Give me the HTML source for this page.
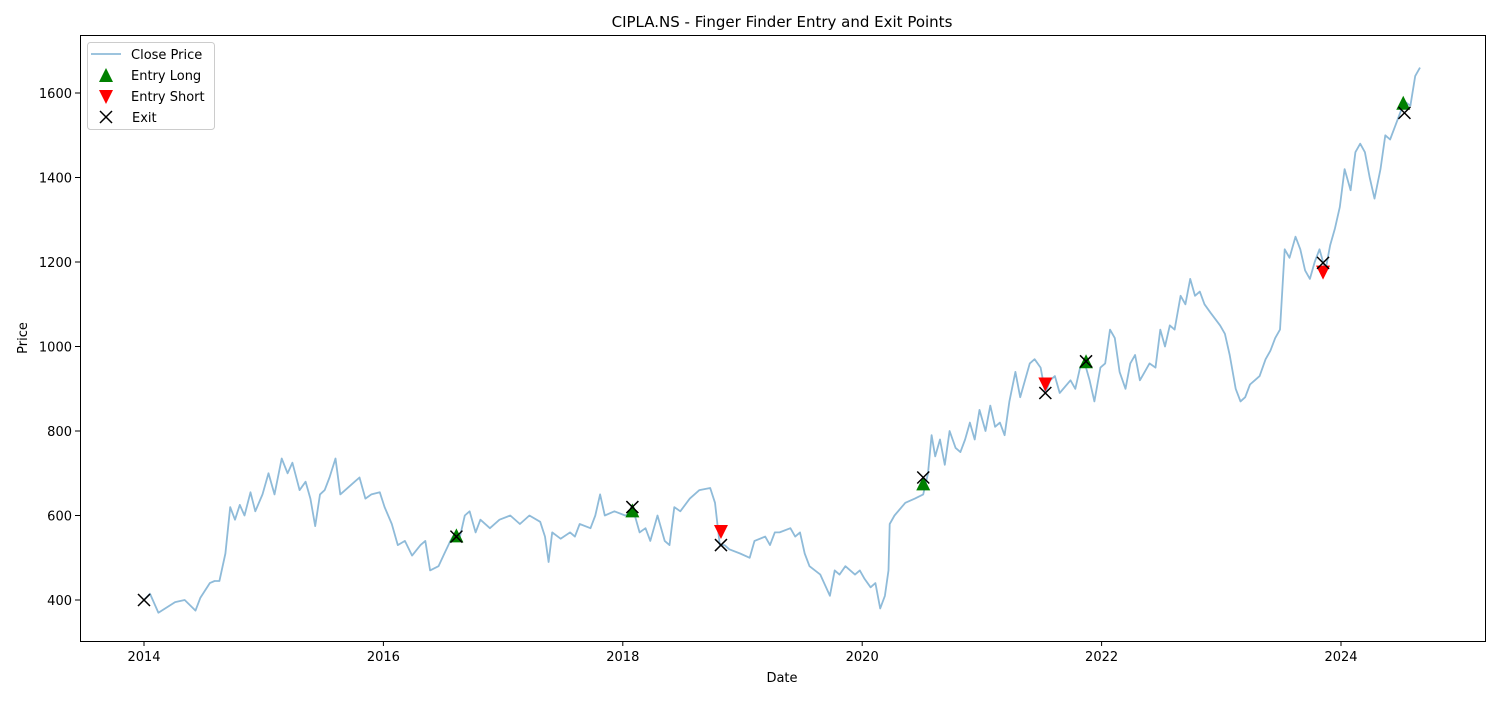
<!DOCTYPE html>
<html><head><meta charset="utf-8"><style>
body{margin:0;background:#fff;font-family:"DejaVu Sans","Liberation Sans",sans-serif;}
svg text{font-family:"DejaVu Sans","Liberation Sans",sans-serif;}
</style></head><body>
<svg id="chart" width="1500" height="700" xmlns="http://www.w3.org/2000/svg">
<rect width="1500" height="700" fill="#fff"/>
<text x="782" y="27" font-size="15" text-anchor="middle">CIPLA.NS - Finger Finder Entry and Exit Points</text>
<g id="plot"></g>
<rect x="80.5" y="35.5" width="1405" height="606" fill="none" stroke="#000" stroke-width="1"/>
<text x="782" y="682" font-size="13" text-anchor="middle">Date</text>
<text x="27" y="338" font-size="13" text-anchor="middle" transform="rotate(-90 27 338)">Price</text>
<g>
<rect x="87.5" y="42.5" width="127" height="87" rx="3" fill="#fff" fill-opacity="0.8" stroke="#ccc"/>
<line x1="91" y1="54" x2="121" y2="54" stroke="#1f77b4" stroke-opacity="0.5" stroke-width="1.8"/>
<text x="131" y="59" font-size="13">Close Price</text>
<polygon points="106,68 99,82 113,82" fill="green"/>
<text x="131" y="80" font-size="13">Entry Long</text>
<polygon points="106,104 99,90 113,90" fill="red"/>
<text x="131" y="101" font-size="13">Entry Short</text>
<path d="M100,111 L112,123 M112,111 L100,123" stroke="#000" stroke-width="1.5"/>
<text x="132" y="122" font-size="13">Exit</text>
</g>
</svg>
<script>
const xTicks=[2014,2016,2018,2020,2022,2024];
const yTicks=[400,600,800,1000,1200,1400,1600];
const closeYears=[0,.05,.12,.26,.34,.43,.47,.55,.59,.63,.68,.72,.76,.80,.84,.89,.93,.99,1.04,1.09,1.15,1.20,1.24,1.30,1.35,1.39,1.43,1.47,1.51,1.55,1.60,1.64,1.72,1.76,1.80,1.85,1.90,1.97,2.01,2.07,2.12,2.18,2.24,2.31,2.35,2.39,2.46,2.51,2.56,2.60,2.64,2.68,2.72,2.77,2.81,2.89,2.97,3.06,3.14,3.22,3.31,3.35,3.38,3.41,3.48,3.56,3.60,3.64,3.73,3.77,3.81,3.85,3.93,4.02,4.09,4.14,4.19,4.23,4.29,4.35,4.39,4.43,4.48,4.56,4.64,4.73,4.77,4.81,4.85,4.89,4.98,5.06,5.10,5.19,5.23,5.27,5.31,5.40,5.44,5.48,5.52,5.56,5.65,5.73,5.77,5.81,5.86,5.94,5.98,6.02,6.07,6.11,6.15,6.19,6.22,6.23,6.27,6.36,6.44,6.51,6.55,6.58,6.61,6.65,6.69,6.73,6.78,6.82,6.86,6.90,6.94,6.98,7.03,7.07,7.11,7.15,7.19,7.23,7.28,7.32,7.36,7.40,7.44,7.49,7.53,7.57,7.61,7.65,7.74,7.78,7.82,7.86,7.90,7.94,7.99,8.03,8.07,8.11,8.15,8.20,8.24,8.28,8.32,8.36,8.40,8.45,8.49,8.53,8.57,8.61,8.66,8.70,8.74,8.78,8.82,8.86,8.91,8.99,9.03,9.07,9.12,9.16,9.20,9.24,9.28,9.32,9.37,9.41,9.45,9.49,9.53,9.57,9.62,9.66,9.70,9.74,9.78,9.82,9.87,9.91,9.95,9.99,10.03,10.08,10.12,10.16,10.20,10.24,10.28,10.33,10.37,10.41,10.45,10.49,10.53,10.58,10.62,10.66];
const closePrices=[400,415,370,395,400,375,405,440,445,445,510,620,590,625,600,655,610,650,700,650,735,700,725,660,680,640,575,650,660,690,735,650,670,680,690,640,650,655,620,580,530,540,505,530,540,470,480,510,540,560,550,600,610,560,590,570,590,600,580,600,585,550,490,560,545,560,550,580,570,600,650,600,610,600,610,560,570,540,600,540,530,620,610,640,660,665,630,530,530,520,510,500,540,550,530,560,560,570,550,560,510,480,460,410,470,460,480,460,470,450,430,440,380,410,470,580,600,630,640,650,700,790,740,780,720,800,760,750,780,820,780,850,800,860,810,820,790,870,940,880,920,960,970,950,890,920,930,890,920,900,950,960,920,870,950,960,1040,1020,940,900,960,980,920,940,960,950,1040,1000,1050,1040,1120,1100,1160,1120,1130,1100,1080,1050,1030,980,900,870,880,910,920,930,970,990,1020,1040,1230,1210,1260,1230,1180,1160,1200,1230,1180,1240,1280,1330,1420,1370,1460,1480,1460,1400,1350,1420,1500,1490,1520,1550,1580,1570,1640,1660];
const longYears=[2.61,4.08,6.51,7.87,10.52];
const longPrices=[553,612,676,965,1577];
const shortYears=[4.82,7.53,9.85];
const shortPrices=[561,910,1175];
const exitYears=[0,2.61,4.08,4.82,6.51,7.53,7.87,9.85,10.53];
const exitPrices=[400,550,620,530,690,890,965,1198,1553];

const NS='http://www.w3.org/2000/svg';
const plot=document.getElementById('plot');
const svg=document.getElementById('chart');
function xs(yr){return 144+(yr-2014)*119.7;}
function ys(p){return 600-(p-400)*0.4225;}
function mk(t,a){const e=document.createElementNS(NS,t);for(const k in a)e.setAttribute(k,a[k]);return e;}

xTicks.forEach(t=>{
  const x=xs(t);
  const l=mk('line',{x1:x,y1:641,x2:x,y2:646,stroke:'#000'});
  
  
  svg.appendChild(l);
  const tx=mk('text',{x:x,y:661,'font-size':13,'text-anchor':'middle'});
  
  
  tx.textContent=t;svg.appendChild(tx);
});
yTicks.forEach(t=>{
  const y=ys(t);
  const l=mk('line',{x1:75,y1:y,x2:80,y2:y,stroke:'#000'});
  
  
  svg.appendChild(l);
  const tx=mk('text',{x:72,y:y+5,'font-size':13,'text-anchor':'end'});
  
  
  tx.textContent=t;svg.appendChild(tx);
});
const pts=closeYears.map((d,i)=>xs(2014+d).toFixed(1)+','+ys(closePrices[i]).toFixed(1)).join(' ');
const line=mk('polyline',{points:pts,fill:'none',stroke:'#1f77b4','stroke-opacity':0.5,'stroke-width':1.8,'stroke-linejoin':'round'});


plot.appendChild(line);
longYears.forEach((d,i)=>{
  const x=xs(2014+d),y=ys(longPrices[i]);
  const p=mk('polygon',{points:`${x},${y-7} ${x-7},${y+7} ${x+7},${y+7}`,fill:'green'});
  
  
  plot.appendChild(p);
});
shortYears.forEach((d,i)=>{
  const x=xs(2014+d),y=ys(shortPrices[i]);
  const p=mk('polygon',{points:`${x},${y+7} ${x-7},${y-7} ${x+7},${y-7}`,fill:'red'});
  
  
  plot.appendChild(p);
});
exitYears.forEach((d,i)=>{
  const x=xs(2014+d),y=ys(exitPrices[i]);
  const p=mk('path',{d:`M${x-6},${y-6} L${x+6},${y+6} M${x+6},${y-6} L${x-6},${y+6}`,stroke:'#000','stroke-width':1.5});
  
  
  plot.appendChild(p);
});
</script>
</body></html>
